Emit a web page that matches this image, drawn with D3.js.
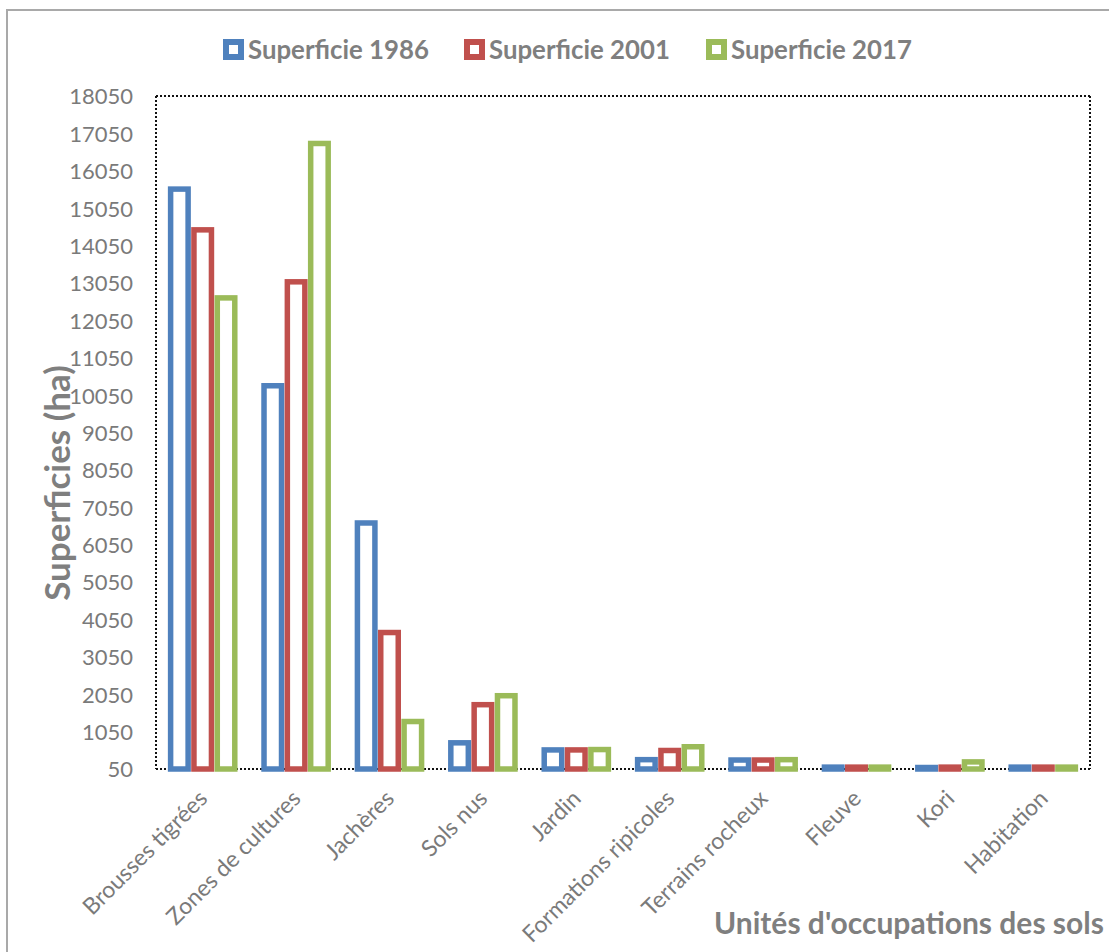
<!DOCTYPE html>
<html>
<head>
<meta charset="utf-8">
<script src="https://cdn.jsdelivr.net/npm/d3@7"></script>
<style>
  html, body { margin: 0; padding: 0; background: #fff; }
  svg { display: block; }
</style>
</head>
<body>
<svg id="chart" width="1109" height="952"></svg>
<script>
const categories = ["Brousses tigrées", "Zones de cultures", "Jachères", "Sols nus", "Jardin",
  "Formations ripicoles", "Terrains rocheux", "Fleuve", "Kori", "Habitation"];
const seriesNames = ["Superficie 1986", "Superficie 2001", "Superficie 2017"];
const sup1986 = [15560, 10300, 6630, 750, 560, 300, 290, 100, 90, 100];
const sup2001 = [14470, 13080, 3700, 1770, 560, 545, 290, 100, 100, 100];
const sup2017 = [12650, 16780, 1320, 2010, 570, 645, 300, 100, 240, 100];
const yTicks = [50, 1050, 2050, 3050, 4050, 5050, 6050, 7050, 8050, 9050, 10050,
  11050, 12050, 13050, 14050, 15050, 16050, 17050, 18050];
const colors = ["#4F81BD", "#C0504D", "#9BBB59"];
const seriesValues = [sup1986, sup2001, sup2017];

const svg = d3.select("#chart");
const plot = { left: 156, right: 1090, top: 96, bottom: 769 };
const tickColor = "#7a7a7a";
const titleColor = "#7f7f7f";
const fontFam = "Lato, 'Open Sans', sans-serif";

// outer frame
svg.append("rect").attr("x", 7).attr("y", 10).attr("width", 1200).attr("height", 1000)
  .attr("fill", "none").attr("stroke", "#a9a9a9").attr("stroke-width", 2);

const y = d3.scaleLinear().domain([50, 18050]).range([plot.bottom, plot.top]);
const x0 = d3.scaleBand().domain(categories).range([plot.left, plot.right]).padding(0);
const half = x0.bandwidth() / 2;
const x1 = d3.scaleBand().domain(seriesNames)
  .range([half - 35, half + 35]).paddingInner(0.25).paddingOuter(0.125);

// plot area dotted border
const border = svg.append("g").attr("fill", "none").attr("stroke", "#111")
  .attr("stroke-width", 2).attr("stroke-dasharray", "2,2");
border.append("line").attr("x1", plot.left).attr("x2", plot.right).attr("y1", plot.top).attr("y2", plot.top);
border.append("line").attr("x1", plot.right).attr("x2", plot.right).attr("y1", plot.top).attr("y2", plot.bottom);
border.append("line").attr("x1", plot.left).attr("x2", plot.left).attr("y1", plot.top).attr("y2", plot.bottom);
border.append("line").attr("x1", plot.left).attr("x2", plot.right).attr("y1", plot.bottom).attr("y2", plot.bottom);

// y axis
const yAxis = d3.axisLeft(y).tickValues(yTicks).tickSize(0).tickPadding(0).tickFormat(d3.format("d"));
const yg = svg.append("g").attr("transform", `translate(133,0)`).call(yAxis);
yg.select(".domain").remove();
yg.selectAll("text").attr("fill", tickColor).attr("font-family", fontFam).attr("font-size", 22)
  .attr("dy", "0.36em");

// bars
const groups = svg.append("g").selectAll("g").data(categories).join("g")
  .attr("transform", d => `translate(${x0(d)},0)`);
seriesNames.forEach((s, si) => {
  groups.append("rect")
    .attr("x", x1(s))
    .attr("width", x1.bandwidth())
    .attr("y", (d, i) => y(seriesValues[si][i]))
    .attr("height", (d, i) => y(50) - y(seriesValues[si][i]))
    .attr("fill", "#fff")
    .attr("stroke", colors[si])
    .attr("stroke-width", 5.5);
});

// x labels
const xAxis = d3.axisBottom(x0).tickSize(0).tickPadding(0);
const xg = svg.append("g").attr("transform", `translate(0,${plot.bottom})`).call(xAxis);
xg.select(".domain").remove();
xg.selectAll(".tick text")
  .attr("fill", tickColor).attr("font-family", fontFam).attr("font-size", 23)
  .attr("text-anchor", "end")
  .attr("transform", "translate(6,31) rotate(-45)")
  .attr("dy", "0em").attr("y", 0).attr("x", 0);

// legend
const legend = svg.append("g");
const legX = [223, 464, 706];
seriesNames.forEach((s, i) => {
  const g = legend.append("g").attr("transform", `translate(${legX[i]},39)`);
  g.append("rect").attr("x", 3).attr("y", 3).attr("width", 15).attr("height", 15)
    .attr("fill", "#fff").attr("stroke", colors[i]).attr("stroke-width", 6);
  g.append("text").attr("x", 25).attr("y", 11).attr("dy", "0.36em")
    .attr("fill", titleColor).attr("font-family", fontFam).attr("font-weight", "bold")
    .attr("font-size", 25.8).text(s);
});

// axis titles
svg.append("text").attr("transform", "translate(70,483) rotate(-90)")
  .attr("text-anchor", "middle").attr("fill", titleColor).attr("font-family", fontFam)
  .attr("font-weight", "bold").attr("font-size", 35).text("Superficies (ha)");
svg.append("text").attr("x", 714).attr("y", 934)
  .attr("fill", titleColor).attr("font-family", fontFam)
  .attr("font-weight", "bold").attr("font-size", 30).text("Unités d'occupations des sols");
</script>
</body>
</html>
